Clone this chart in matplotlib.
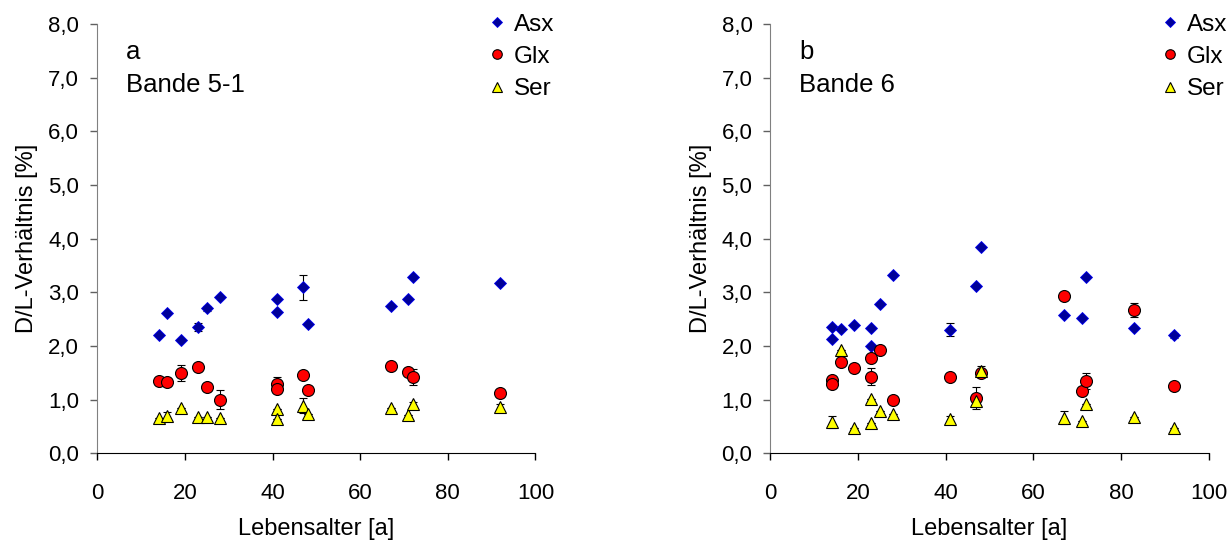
import matplotlib
matplotlib.use('Agg')
import matplotlib.pyplot as plt
from matplotlib.ticker import FuncFormatter

plt.rcParams['font.family'] = ['Liberation Sans', 'DejaVu Sans']
plt.rcParams['font.size'] = 16

# panel a: Bande 5-1
a_asx_age = [14, 16, 19, 23, 25, 28, 41, 41, 47, 48, 67, 71, 72, 92]
a_asx_val = [2.21, 2.62, 2.12, 2.35, 2.70, 2.92, 2.87, 2.64, 3.09, 2.41, 2.75, 2.88, 3.28, 3.17]
a_asx_err = [0, 0, 0, 0.08, 0.05, 0, 0, 0, 0.24, 0, 0, 0, 0, 0]

a_glx_age = [14, 16, 19, 23, 25, 28, 41, 41, 47, 48, 67, 71, 72, 92]
a_glx_val = [1.35, 1.32, 1.49, 1.60, 1.24, 1.00, 1.29, 1.19, 1.46, 1.17, 1.63, 1.51, 1.42, 1.12]
a_glx_err = [0, 0, 0.15, 0, 0, 0.17, 0.14, 0, 0, 0, 0, 0, 0.15, 0]

a_ser_age = [14, 16, 19, 23, 25, 28, 41, 41, 47, 48, 67, 71, 72, 92]
a_ser_val = [0.65, 0.70, 0.84, 0.68, 0.68, 0.65, 0.83, 0.63, 0.89, 0.74, 0.85, 0.72, 0.91, 0.86]
a_ser_err = [0, 0.06, 0, 0, 0, 0, 0, 0, 0.14, 0, 0, 0, 0.05, 0.05]

# panel b: Bande 6
b_asx_age = [14, 14, 16, 19, 23, 23, 25, 28, 41, 47, 48, 67, 71, 72, 83, 92]
b_asx_val = [2.36, 2.13, 2.31, 2.39, 2.33, 1.99, 2.78, 3.33, 2.30, 3.12, 3.85, 2.57, 2.53, 3.28, 2.33, 2.20]
b_asx_err = [0, 0, 0, 0, 0, 0, 0, 0, 0.12, 0, 0, 0, 0, 0, 0, 0.05]

b_glx_age = [14, 14, 16, 19, 23, 23, 25, 28, 41, 47, 48, 67, 71, 72, 83, 92]
b_glx_val = [1.36, 1.30, 1.71, 1.58, 1.78, 1.43, 1.93, 0.99, 1.43, 1.03, 1.49, 2.94, 1.16, 1.35, 2.67, 1.26]
b_glx_err = [0, 0, 0, 0, 0, 0.15, 0, 0, 0, 0.20, 0, 0, 0, 0.15, 0.13, 0]

b_ser_age = [14, 16, 19, 23, 23, 25, 28, 41, 47, 48, 67, 71, 72, 83, 92]
b_ser_val = [0.59, 1.93, 0.48, 1.02, 0.56, 0.78, 0.74, 0.64, 0.98, 1.53, 0.66, 0.61, 0.92, 0.67, 0.48]
b_ser_err = [0.11, 0, 0, 0, 0, 0, 0, 0.06, 0.12, 0.10, 0.12, 0, 0, 0, 0]

panels = [
    ('a', 'Bande 5-1', [(a_asx_age, a_asx_val, a_asx_err),
                        (a_glx_age, a_glx_val, a_glx_err),
                        (a_ser_age, a_ser_val, a_ser_err)]),
    ('b', 'Bande 6', [(b_asx_age, b_asx_val, b_asx_err),
                      (b_glx_age, b_glx_val, b_glx_err),
                      (b_ser_age, b_ser_val, b_ser_err)]),
]

names = ['Asx', 'Glx', 'Ser']
styles = [
    dict(marker='D', ms=6.0, mfc='#000099', mec='#0000ee', mew=0.6),
    dict(marker='o', ms=8.6, mfc='#ff0000', mec='black', mew=0.8),
    dict(marker='^', ms=8.2, mfc='#ffff00', mec='black', mew=0.8),
]

fig = plt.figure(figsize=(12.31, 5.4), dpi=100)
lefts = [0.0790, 0.6259]

for (letter, band, series), left in zip(panels, lefts):
    ax = fig.add_axes([left, 0.1606, 0.356, 0.795])
    for (x, y, e), name, st in zip(series, names, styles):
        ax.errorbar(x, y, yerr=e, fmt='none', ecolor='black', elinewidth=0.8,
                    capsize=3, capthick=0.8, zorder=2)
        ax.plot(x, y, ls='none', label=name, zorder=3, **st)

    ax.set_xlim(0, 100)
    ax.set_ylim(0, 8)
    ax.set_xticks(range(0, 101, 20))
    ax.set_yticks(range(0, 9))
    ax.yaxis.set_major_formatter(FuncFormatter(lambda v, p: f'{v:.1f}'.replace('.', ',')))
    for s in ['top', 'right']:
        ax.spines[s].set_visible(False)
    ax.spines['left'].set_color('#808080')
    ax.spines['bottom'].set_color('black')
    ax.tick_params(axis='y', direction='out', length=5, width=1, color='#606060',
                   pad=8, labelsize=16)
    ax.tick_params(axis='x', direction='out', length=5, width=1, color='black',
                   pad=16.5, labelsize=16)
    ax.set_xlabel('Lebensalter [a]', labelpad=10, fontsize=17)
    ax.set_ylabel('D/L-Verhältnis [%]', labelpad=7, fontsize=17)

    ax.text(0.066, 0.919, letter, transform=ax.transAxes, va='baseline', ha='left',
            fontsize=18.5)
    ax.text(0.066, 0.842, band, transform=ax.transAxes, va='baseline', ha='left',
            fontsize=18.5)

    ax.legend(loc='upper left', bbox_to_anchor=(0.89, 1.024), frameon=False,
              fontsize=17.5, markerscale=0.8, handlelength=0.8, handletextpad=0.3,
              labelspacing=0.42, borderpad=0, borderaxespad=0)

fig.savefig('out.png', dpi=100)
